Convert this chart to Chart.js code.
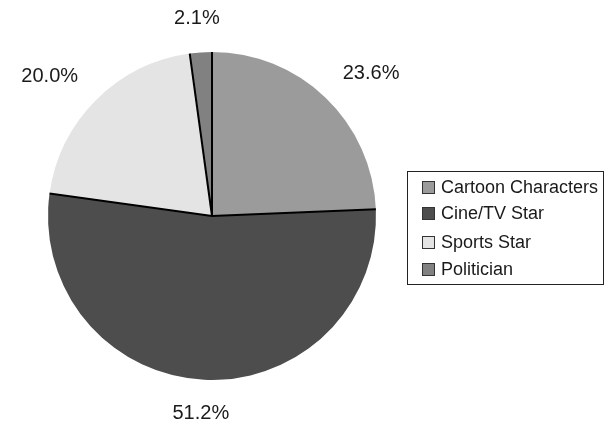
<!DOCTYPE html>
<html>
<head>
<meta charset="utf-8">
<script src="https://cdn.jsdelivr.net/npm/chart.js@4/dist/chart.umd.min.js"></script>
<style>
  html, body { margin: 0; padding: 0; background: #fff; }
  #wrap { width: 613px; height: 426px; position: relative; }
</style>
</head>
<body>
<div id="wrap"><canvas id="c" width="613" height="426"></canvas></div>
<script>
// Favourite celebrity type, share of respondents (%)
const categories = ['Cartoon Characters', 'Cine/TV Star', 'Sports Star', 'Politician'];
const shares = [23.6, 51.2, 20.0, 2.1];
const valueLabels = ['23.6%', '51.2%', '20.0%', '2.1%'];
const sliceColors = ['#9b9b9b', '#4d4d4d', '#e4e4e4', '#818181'];

const FONT = '"Liberation Sans", Arial, Helvetica, sans-serif';

// Black radial dividers between the slices (no outer rim)
const dividers = {
  id: 'dividers',
  afterDatasetsDraw(chart) {
    const ctx = chart.ctx;
    const arcs = chart.getDatasetMeta(0).data;
    ctx.save();
    ctx.strokeStyle = '#000';
    ctx.lineWidth = 2;
    ctx.lineCap = 'butt';
    arcs.forEach(a => {
      const { x, y, outerRadius, startAngle } = a.getProps(['x', 'y', 'outerRadius', 'startAngle'], true);
      ctx.beginPath();
      ctx.moveTo(x, y);
      ctx.lineTo(x + outerRadius * Math.cos(startAngle), y + outerRadius * Math.sin(startAngle));
      ctx.stroke();
    });
    ctx.restore();
  }
};

// Percentage labels placed just outside each slice
const outsideLabels = {
  id: 'outsideLabels',
  afterDatasetsDraw(chart) {
    const ctx = chart.ctx;
    const arcs = chart.getDatasetMeta(0).data;
    ctx.save();
    ctx.font = '20px ' + FONT;
    ctx.fillStyle = '#1a1a1a';
    ctx.textAlign = 'center';
    ctx.textBaseline = 'middle';
    const h = 15;
    arcs.forEach((a, i) => {
      const { x, y, outerRadius, startAngle, endAngle } = a.getProps(['x', 'y', 'outerRadius', 'startAngle', 'endAngle'], true);
      const mid = (startAngle + endAngle) / 2;
      const dx = Math.cos(mid), dy = Math.sin(mid);
      const w = ctx.measureText(valueLabels[i]).width;
      const r = outerRadius + 26;
      const tx = x + dx * r + dx * w * 0.7;
      const ty = y + dy * r + dy * h / 2;
      ctx.fillText(valueLabels[i], tx, ty);
    });
    ctx.restore();
  }
};

// Boxed legend to the right of the pie
const boxLegend = {
  id: 'boxLegend',
  afterDraw(chart) {
    const ctx = chart.ctx;
    const colors = chart.data.datasets[0].backgroundColor;
    const left = 407.5, top = 171.5, width = 196, height = 113;
    const rowY = [187, 213, 242, 269];
    ctx.save();
    ctx.strokeStyle = '#222';
    ctx.lineWidth = 1;
    ctx.strokeRect(left, top, width, height);
    ctx.font = '18px ' + FONT;
    ctx.textBaseline = 'middle';
    ctx.textAlign = 'left';
    chart.data.labels.forEach((lab, i) => {
      const cy = rowY[i];
      ctx.fillStyle = colors[i];
      ctx.fillRect(422, cy - 6, 13, 13);
      ctx.strokeStyle = '#333';
      ctx.strokeRect(422.5, cy - 5.5, 12, 12);
      ctx.fillStyle = '#1a1a1a';
      ctx.fillText(lab, 441, cy + 1);
    });
    ctx.restore();
  }
};

new Chart(document.getElementById('c'), {
  type: 'pie',
  data: {
    labels: categories,
    datasets: [{
      data: shares,
      backgroundColor: sliceColors,
      borderWidth: 0
    }]
  },
  options: {
    responsive: false,
    animation: false,
    events: [],
    layout: { padding: { left: 48, right: 237, top: 52, bottom: 46 } },
    plugins: {
      legend: { display: false },
      tooltip: { enabled: false },
      title: { display: false }
    }
  },
  plugins: [dividers, outsideLabels, boxLegend]
});
</script>
</body>
</html>
